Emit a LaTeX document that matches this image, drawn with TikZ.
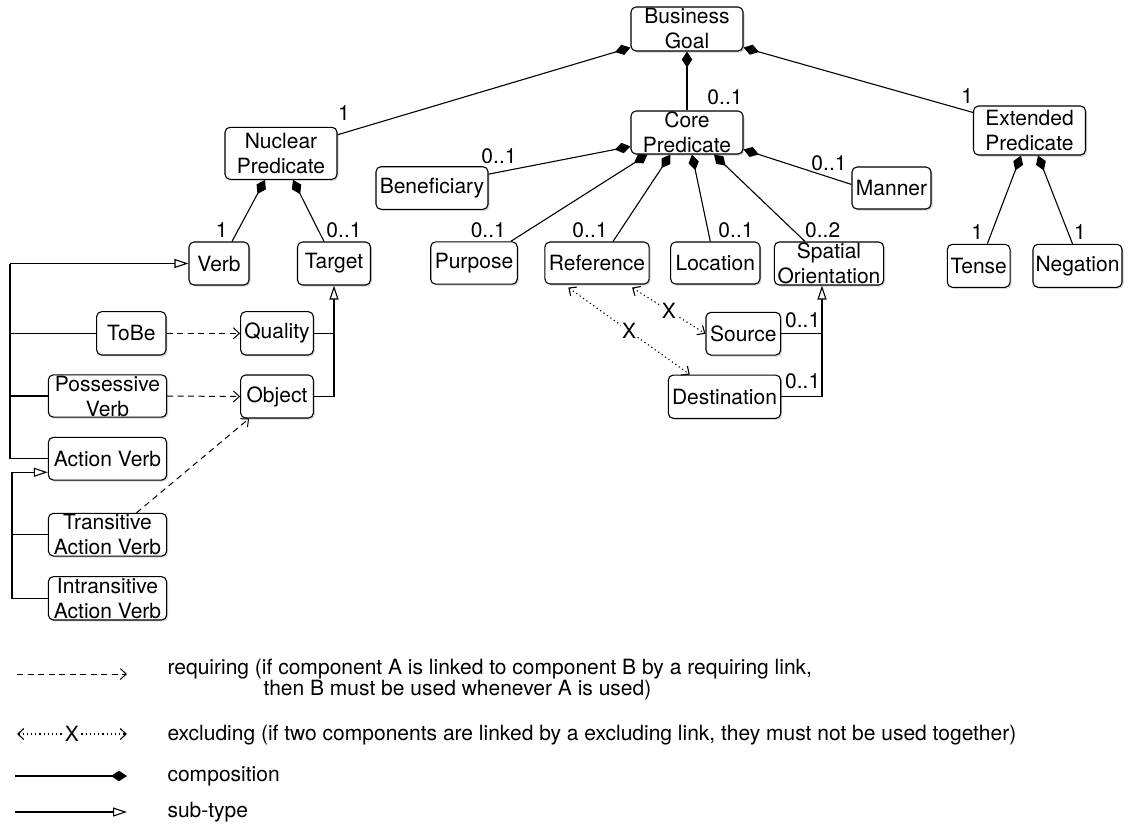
\documentclass[tikz,border=0pt]{standalone}
\usepackage{fontspec}
\setmainfont{TeX Gyre Heros}
\usetikzlibrary{arrows.meta,shadows}
\begin{document}
\begin{tikzpicture}[x=1pt,y=-1pt,line width=1.1pt,
  font=\fontsize{21}{25}\selectfont,
  cls/.style={draw,rounded corners=5pt,fill=white,align=center,inner sep=0pt,
    drop shadow={shadow xshift=1.5pt,shadow yshift=-1.5pt,opacity=0.35}},
  comp/.style={-{Diamond[length=16pt,width=10.5pt]}},
  sub/.style={-{Triangle[open,length=14pt,width=9pt]}},
  req/.style={dash pattern=on 6pt off 4.5pt,line width=1pt,
    -{Straight Barb[length=6pt,width=11pt]}},
  exc/.style={dash pattern=on 1.2pt off 3pt,line width=1.1pt,
    {Straight Barb[length=6pt,width=11pt]}-{Straight Barb[length=6pt,width=11pt]}},
  mult/.style={inner sep=0pt},
  xmark/.style={fill=white,inner sep=1pt},
  legend/.style={anchor=base west,inner sep=0pt,align=left}]
\useasboundingbox (0,0) rectangle (1132,823);

% classes
\node[cls,minimum width=112pt,minimum height=44pt] (bg) at (687,29) {Business\\Goal};
\node[cls,minimum width=112pt,minimum height=43pt] (core) at (687,132.5) {Core\\Predicate};
\node[cls,minimum width=112pt,minimum height=49pt] (ext) at (1029.5,130.5) {Extended\\Predicate};
\node[cls,minimum width=112pt,minimum height=52pt] (nuc) at (281,153.3) {Nuclear\\Predicate};
\node[cls,minimum width=112pt,minimum height=42.6pt] (ben) at (432,188) {Beneficiary};
\node[cls,minimum width=79pt,minimum height=42pt] (man) at (891.5,188) {Manner};
\node[cls,minimum width=60pt,minimum height=43pt] (verb) at (219,263.5) {Verb};
\node[cls,minimum width=73pt,minimum height=43pt] (tgt) at (334,263.5) {Target};
\node[cls,minimum width=86.6pt,minimum height=42.3pt] (pur) at (474,263) {Purpose};
\node[cls,minimum width=104.3pt,minimum height=42pt] (ref) at (597,263) {Reference};
\node[cls,minimum width=89.3pt,minimum height=42pt] (loc) at (715.3,263) {Location};
\node[cls,minimum width=109.3pt,minimum height=43pt] (spa) at (829,263.5) {Spatial\\Orientation};
\node[cls,minimum width=62.7pt,minimum height=43pt] (tense) at (978.7,265.8) {Tense};
\node[cls,minimum width=89pt,minimum height=43pt] (neg) at (1077.5,265.8) {Negation};
\node[cls,minimum width=74.7pt,minimum height=42.7pt] (src) at (743.3,333.7) {Source};
\node[cls,minimum width=112.4pt,minimum height=43.3pt] (dst) at (724.5,396.7) {Destination};
\node[cls,minimum width=69.3pt,minimum height=43.3pt] (tobe) at (131.3,333.3) {ToBe};
\node[cls,minimum width=72.7pt,minimum height=43.3pt] (qual) at (277,333.3) {Quality};
\node[cls,minimum width=118.3pt,minimum height=42.3pt] (poss) at (107.5,396) {Possessive\\Verb};
\node[cls,minimum width=72.7pt,minimum height=43pt] (obj) at (277,396.5) {Object};
\node[cls,minimum width=118.3pt,minimum height=42.7pt] (av) at (107.5,458.7) {Action Verb};
\node[cls,minimum width=118.3pt,minimum height=42.7pt] (tav) at (107.5,534.7) {Transitive\\Action Verb};
\node[cls,minimum width=118.3pt,minimum height=43.3pt] (iav) at (107.5,598.3) {Intransitive\\Action Verb};

% compositions
\draw[comp] ([yshift=-8pt]nuc.north east) -- ([yshift=4pt]bg.south west);
\draw[comp] (core.north) -- (bg.south);
\draw[comp] ([yshift=-7pt]ext.north west) -- ([yshift=4pt]bg.south east);
\draw[comp] ([yshift=-8pt]ben.north east) -- ([yshift=-14pt]core.west);
\draw[comp] ([xshift=-7pt]pur.north east) -- ([xshift=17pt]core.south west);
\draw[comp] ([xshift=16pt]ref.north) -- ([xshift=40pt]core.south west);
\draw[comp] ([xshift=-5pt]loc.north) -- ([xshift=5pt]core.south);
\draw[comp] ([xshift=-24pt]spa.north) -- ([xshift=27pt]core.south);
\draw[comp] ([yshift=-18pt]man.north west) -- ([yshift=-17pt]core.east);
\draw[comp] ([xshift=8.6pt]tense.north) -- ([xshift=-8.5pt]ext.south);
\draw[comp] ([xshift=-5pt]neg.north) -- ([xshift=8.5pt]ext.south);
\draw[comp] ([xshift=13pt]verb.north) -- ([xshift=-16pt]nuc.south);
\draw[comp] ([xshift=-10pt]tgt.north) -- ([xshift=12pt]nuc.south);

% multiplicities
\node[mult] (m1) at (344,113.3) {1};
\node[mult] (m2) at (725,97) {0..1};
\node[mult] (m3) at (967.3,96) {1};
\node[mult] (m4) at (499,156.7) {0..1};
\node[mult] (m5) at (488.3,230) {0..1};
\node[mult] (m6) at (590,230) {0..1};
\node[mult] (m7) at (736,230) {0..1};
\node[mult] (m8) at (822.7,230) {0..2};
\node[mult] (m9) at (829,163) {0..1};
\node[mult] (m10) at (977.3,231.7) {1};
\node[mult] (m11) at (1080,231.7) {1};
\node[mult] (m12) at (221.7,230) {1};
\node[mult] (m13) at (344,230) {0..1};
\node[mult] (m14) at (802.7,320.7) {0..1};
\node[mult] (m15) at (802.7,381.7) {0..1};

% sub-types of Verb
\coordinate (vx) at (10,263.5);
\draw[sub] (vx) -- (verb.west);
\draw (vx) |- (av.west);
\draw (tobe.west) -- (tobe.west -| vx);
\draw (poss.west) -- (poss.west -| vx);

% sub-types of Action Verb
\coordinate (ax) at (12,472.3);
\draw[sub] (ax) -- (ax -| av.west);
\draw (ax) |- (iav.west);
\draw (tav.west) -- (tav.west -| ax);

% sub-types of Target
\draw[sub] (obj.east) -| (tgt.south);
\draw (qual.east) -- (qual.east -| tgt.south);

% sub-types of Spatial Orientation
\coordinate (sx) at ([xshift=-7pt]spa.south);
\draw[sub] (dst.east) -| (sx);
\draw (src.east) -- (src.east -| sx);

% requiring links
\draw[req] (tobe.east) -- (qual.west);
\draw[req] (poss.east) -- (obj.west);
\draw[req] ([xshift=29pt]tav.north) -- ([xshift=9pt]obj.south west);

% excluding links
\draw[exc] ([xshift=24pt,yshift=-3pt]ref.south west) -- node[xmark] (x1) {X} ([xshift=22pt]dst.north west);
\draw[exc] ([xshift=-17.6pt,yshift=-3pt]ref.south east) -- node[xmark] (x2) {X} (src.west);

% legend
\coordinate (r1) at (17,674);
\coordinate (r2) at (127,674);
\draw[req] (r1) -- (r2);
\node[legend,font=\fontsize{21}{18}\selectfont] (t1) at (167,695)
  {requiring (if component A is linked to component B by a requiring link,\\
   \hspace*{96pt}then B must be used whenever A is used)};

\coordinate (e1) at (17,734);
\coordinate (e2) at (127,734);
\draw[exc] (e1) -- node[xmark] (x3) {X} (e2);
\node[legend] (t2) at (167,740.5) {excluding (if two components are linked by a excluding link, they must not be used together)};

\coordinate (c1) at (15,776);
\coordinate (c2) at (127,776);
\draw[comp] (c1) -- (c2);
\node[legend] (t3) at (167,781.5) {composition};

\coordinate (s1) at (15,812);
\coordinate (s2) at (127,812);
\draw[sub] (s1) -- (s2);
\node[legend] (t4) at (167,817.5) {sub-type};
\end{tikzpicture}
\end{document}
